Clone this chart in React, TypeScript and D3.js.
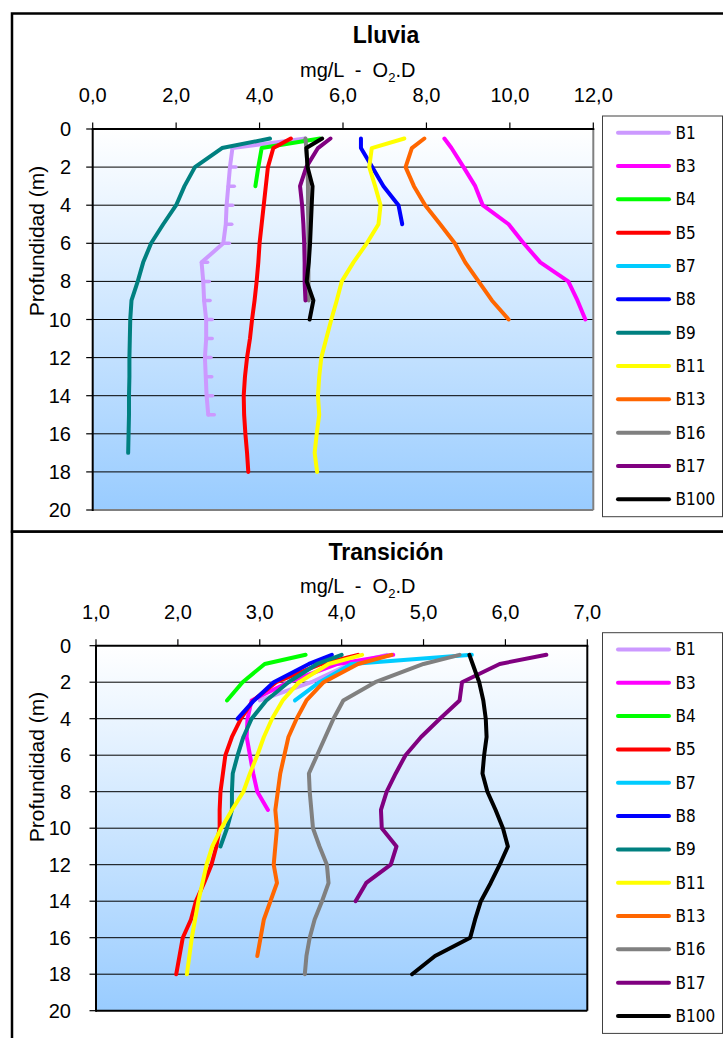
import React from "react";
import * as d3 from "d3";

// ---------- data ----------
const SERIES_NAMES = ["B1", "B3", "B4", "B5", "B7", "B8", "B9", "B11", "B13", "B16", "B17", "B100"];
const SERIES_COLORS = ["#CC99FF", "#FF00FF", "#00FF00", "#FF0000", "#00CCFF", "#0000FF", "#008080", "#FFFF00", "#FF6600", "#808080", "#800080", "#000000"];

// depth (m) of each sample; each series lists O2 values from the surface down
const DEPTHS = [0.5, 1, 2, 3, 4, 5, 6, 7, 8, 9, 10, 11, 12, 13, 14, 15, 16, 17, 18];
const DEPTH_TICKS = [0, 2, 4, 6, 8, 10, 12, 14, 16, 18, 20];
const LLUVIA_X_TICKS = [0, 2, 4, 6, 8, 10, 12];
const TRANS_X_TICKS = [1, 2, 3, 4, 5, 6, 7];

// Lluvia
const lluviaB1 = [5.1, 3.35, 3.29, 3.25, 3.21, 3.19, 3.13, 2.61, 2.65, 2.67, 2.72, 2.72, 2.69, 2.71, 2.73, 2.77];
const lluviaB3 = [8.43, 8.6, 8.89, 9.17, 9.35, 9.97, 10.33, 10.73, 11.4, 11.62, 11.81];
const lluviaB4 = [5.45, 4.05, 3.97, 3.9];
const lluviaB5 = [4.75, 4.33, 4.2, 4.15, 4.1, 4.05, 4.0, 3.97, 3.93, 3.88, 3.82, 3.77, 3.7, 3.65, 3.62, 3.63, 3.66, 3.7, 3.73];
const lluviaB7: number[] = [];
const lluviaB8 = [6.43, 6.43, 6.7, 6.97, 7.33, 7.42];
const lluviaB9 = [4.25, 3.1, 2.45, 2.2, 2.0, 1.69, 1.4, 1.21, 1.08, 0.93, 0.9, 0.89, 0.88, 0.88, 0.87, 0.87, 0.86, 0.85];
const lluviaB11 = [7.47, 6.69, 6.63, 6.77, 6.9, 6.85, 6.57, 6.25, 5.97, 5.85, 5.72, 5.6, 5.48, 5.43, 5.4, 5.43, 5.37, 5.32, 5.38];
const lluviaB13 = [7.95, 7.65, 7.5, 7.7, 7.97, 8.33, 8.68, 8.93, 9.25, 9.57, 9.97];
const lluviaB16 = [5.1, 5.12, 5.15, 5.16, 5.16, 5.17, 5.17, 5.17, 5.17, 5.18];
const lluviaB17 = [5.7, 5.4, 5.12, 4.97, 5.02, 5.05, 5.07, 5.08, 5.08, 5.1];
const lluviaB100 = [5.5, 5.12, 5.15, 5.27, 5.25, 5.23, 5.21, 5.18, 5.13, 5.29, 5.2];

// Transición
const transB1 = [4.55, 4.1, 3.63, 3.0];
const transB3 = [4.63, 3.95, 3.35, 2.9, 2.85, 2.84, 2.88, 2.92, 2.97, 3.1];
const transB4 = [3.56, 3.06, 2.79, 2.6];
const transB5 = [4.2, 3.75, 3.2, 2.92, 2.77, 2.66, 2.58, 2.55, 2.52, 2.51, 2.51, 2.47, 2.41, 2.32, 2.22, 2.16, 2.06, 2.02, 1.98];
const transB7 = [5.59, 4.12, 3.73, 3.43];
const transB8 = [3.88, 3.6, 3.17, 2.93, 2.73];
const transB9 = [4.0, 3.7, 3.35, 3.08, 2.9, 2.8, 2.73, 2.67, 2.66, 2.66, 2.6, 2.52];
const transB11 = [4.25, 3.84, 3.48, 3.28, 3.15, 3.05, 2.97, 2.88, 2.8, 2.66, 2.53, 2.42, 2.35, 2.3, 2.25, 2.21, 2.17, 2.14, 2.11];
const transB13 = [4.61, 4.2, 3.78, 3.57, 3.45, 3.35, 3.3, 3.25, 3.22, 3.19, 3.21, 3.19, 3.17, 3.21, 3.13, 3.05, 3.01, 2.97];
const transB16 = [5.44, 5.0, 4.41, 4.02, 3.9, 3.8, 3.7, 3.6, 3.61, 3.63, 3.65, 3.73, 3.82, 3.84, 3.76, 3.67, 3.61, 3.57, 3.55];
const transB17 = [6.5, 5.93, 5.47, 5.44, 5.2, 4.97, 4.78, 4.66, 4.55, 4.48, 4.49, 4.67, 4.6, 4.3, 4.17];
const transB100 = [5.56, 5.6, 5.68, 5.73, 5.76, 5.77, 5.74, 5.72, 5.78, 5.88, 5.97, 6.03, 5.93, 5.82, 5.7, 5.63, 5.57, 5.14, 4.86];

const LLUVIA = [lluviaB1, lluviaB3, lluviaB4, lluviaB5, lluviaB7, lluviaB8, lluviaB9, lluviaB11, lluviaB13, lluviaB16, lluviaB17, lluviaB100];
const TRANS = [transB1, transB3, transB4, transB5, transB7, transB8, transB9, transB11, transB13, transB16, transB17, transB100];

// ---------- layout ----------
const FONT = "'Liberation Sans', Arial, sans-serif";
const LEGEND_FONT = "'DejaVu Sans Condensed', 'DejaVu Sans', sans-serif";

type Layout = {
  panelTop: number; panelBottom: number;
  x0: number; x1: number; y0: number; y1: number;
  frameColor: string; titleY: number; subY: number; tickY: number; yTitleY: number;
};

const fmt = (v: number) => d3.format(".1f")(v).replace(".", ",");

function Panel({ id, title, data, xDomain, xTicks, L, dashSeries }: {
  id: string; title: string; data: number[][]; xDomain: [number, number]; xTicks: number[]; L: Layout; dashSeries: number;
}) {
  const x = d3.scaleLinear().domain(xDomain).range([L.x0, L.x1]);
  const y = d3.scaleLinear().domain([0, 20]).range([L.y0, L.y1]);
  const line = d3.line<[number, number]>().x((p) => x(p[0])).y((p) => y(p[1]));
  const legendTop = L.y0 - 13;
  const legendStep = 33.33;
  return (
    <g>
      <defs>
        <linearGradient id={id} x1="0" y1="0" x2="0" y2="1">
          <stop offset="0" stopColor="#FFFFFF" />
          <stop offset="1" stopColor="#99CCFF" />
        </linearGradient>
      </defs>
      <rect x={12} y={L.panelTop} width={800} height={L.panelBottom - L.panelTop} fill="#FFFFFF" stroke="#000" strokeWidth={2.5} />
      <rect x={L.x0} y={L.y0} width={L.x1 - L.x0} height={L.y1 - L.y0} fill={`url(#${id})`} />
      {DEPTH_TICKS.filter((t) => t > 0 && t < 20).map((t) => (
        <line key={"g" + t} x1={L.x0} x2={L.x1} y1={y(t)} y2={y(t)} stroke="#000" strokeWidth={1} />
      ))}
      {data.map((vals, i) => {
        const pts: [number, number][] = vals.map((v, k) => [v, DEPTHS[k]]);
        if (pts.length === 0) return null;
        return (
          <g key={"s" + i}>
            <path d={line(pts) || ""} fill="none" stroke={SERIES_COLORS[i]} strokeWidth={4} strokeLinejoin="round" strokeLinecap="round" />
            {i === dashSeries && pts.filter((p) => p[1] >= 2).map((p, k) => (
              <line key={k} x1={x(p[0])} x2={x(p[0]) + 6} y1={y(p[1])} y2={y(p[1])} stroke={SERIES_COLORS[i]} strokeWidth={3.5} strokeLinecap="round" />
            ))}
          </g>
        );
      })}
      {/* frame */}
      <line x1={L.x1} x2={L.x1} y1={L.y0} y2={L.y1} stroke={L.frameColor} strokeWidth={2} />
      <line x1={L.x0} x2={L.x1} y1={L.y1} y2={L.y1} stroke={L.frameColor} strokeWidth={2} />
      <line x1={L.x0} x2={L.x0} y1={L.y0} y2={L.y1 + 1} stroke="#000" strokeWidth={2} />
      <line x1={L.x0 - 1} x2={L.x1 + 1} y1={L.y0} y2={L.y0} stroke="#000" strokeWidth={2} />
      {/* x ticks (top) */}
      {xTicks.map((t) => (
        <g key={"xt" + t}>
          <line x1={x(t)} x2={x(t)} y1={L.y0} y2={L.y0 - 6.5} stroke="#000" strokeWidth={1.2} />
          <text x={x(t)} y={L.tickY} textAnchor="middle" fontFamily={FONT} fontSize={20} fill="#000">{fmt(t)}</text>
        </g>
      ))}
      {/* y ticks */}
      {DEPTH_TICKS.map((t) => (
        <g key={"yt" + t}>
          <line x1={L.x0 - 6.5} x2={L.x0} y1={y(t)} y2={y(t)} stroke="#000" strokeWidth={1.2} />
          <text x={71} y={y(t) + 7} textAnchor="end" fontFamily={FONT} fontSize={20} fill="#000">{t}</text>
        </g>
      ))}
      <text x={386} y={L.titleY} textAnchor="middle" fontFamily={FONT} fontSize={23} fontWeight="bold" fill="#000">{title}</text>
      <text x={300} y={L.subY} fontFamily={FONT} fontSize={20} fill="#000" style={{ whiteSpace: "pre" }}>
        {"mg/L  -  O"}
        <tspan fontSize={13} dy={5}>2</tspan>
        <tspan dy={-5}>.D</tspan>
      </text>
      <text transform={`translate(44,${L.yTitleY}) rotate(-90)`} textAnchor="middle" fontFamily={FONT} fontSize={21} fill="#000">Profundidad (m)</text>
      {/* legend */}
      <rect x={602.5} y={legendTop} width={120} height={400.7} fill="#FFFFFF" stroke="#404040" strokeWidth={1} />
      {SERIES_NAMES.map((n, i) => {
        const cy = legendTop + 16.7 + i * legendStep;
        return (
          <g key={"l" + n}>
            <line x1={618} x2={669} y1={cy} y2={cy} stroke={SERIES_COLORS[i]} strokeWidth={4} strokeLinecap="round" />
            <text x={675.5} y={cy + 6} fontFamily={LEGEND_FONT} fontSize={17} fill="#000">{n}</text>
          </g>
        );
      })}
    </g>
  );
}

const TOP: Layout = {
  panelTop: 13.5, panelBottom: 531.7,
  x0: 92.7, x1: 593.3, y0: 129, y1: 510,
  frameColor: "#808080", titleY: 43, subY: 76.6, tickY: 102.3, yTitleY: 241,
};
const BOTTOM: Layout = {
  panelTop: 531.7, panelBottom: 1100,
  x0: 96, x1: 587.3, y0: 645.7, y1: 1010.7,
  frameColor: "#000000", titleY: 560, subY: 593.3, tickY: 619, yTitleY: 767,
};

export default function App() {
  return (
    <svg width={723} height={1038} viewBox="0 0 723 1038"
      style={{ position: "absolute", left: 0, top: 0, display: "block", background: "#fff" }}>
      <Panel id="gradTop" title="Lluvia" data={LLUVIA} xDomain={[0, 12]} xTicks={LLUVIA_X_TICKS} L={TOP} dashSeries={0} />
      <Panel id="gradBottom" title="Transición" data={TRANS} xDomain={[1, 7]} xTicks={TRANS_X_TICKS} L={BOTTOM} dashSeries={-1} />
    </svg>
  );
}
